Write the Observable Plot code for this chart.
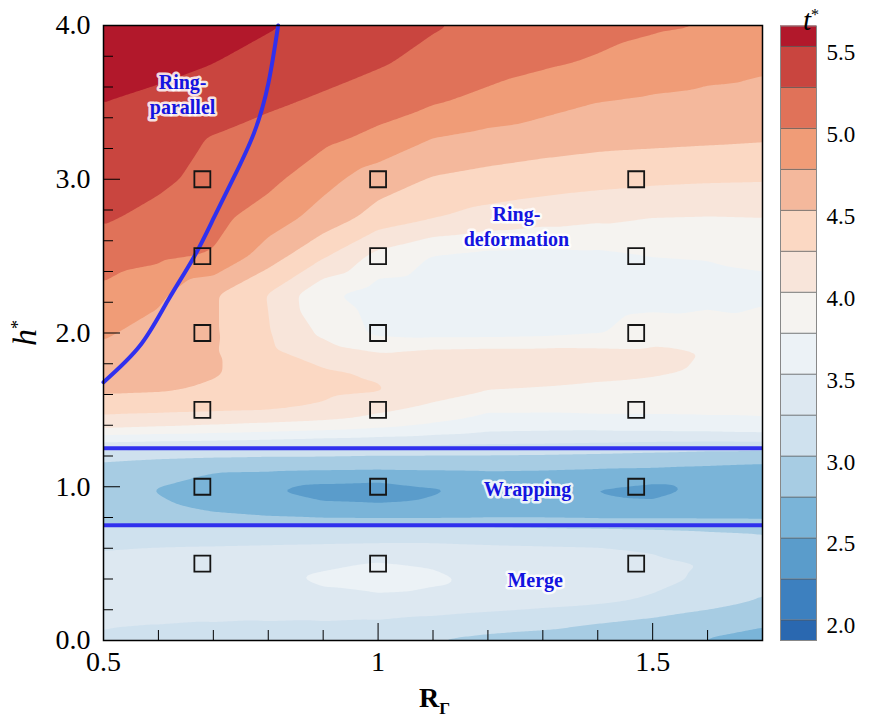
<!DOCTYPE html>
<html><head><meta charset="utf-8">
<script src="https://cdn.jsdelivr.net/npm/d3@7"></script>
<script src="https://cdn.jsdelivr.net/npm/@observablehq/plot@0.6"></script>
<style>
body{margin:0;background:#fff;}
#wrap{position:relative;width:869px;height:720px;overflow:hidden;font-family:"Liberation Serif","Times New Roman",serif;}
#wrap svg{position:absolute;top:0;}
.lbl{position:absolute;font-family:"Liberation Serif","Times New Roman",serif;color:#000;white-space:nowrap;line-height:1;}
</style></head><body><div id="wrap"></div>
<script>
// ---- data ----
const R = [0.5,0.6,0.7,0.8,0.9,1.0,1.1,1.2,1.3,1.4,1.5,1.6,1.7];
const H = [4.0,3.75,3.5,3.25,3.0,2.75,2.5,2.25,2.0,1.875,1.75,1.625,1.5,1.4,1.3,1.2,1.1,0.975,0.875,0.8,0.75,0.7,0.6,0.5,0.4,0.25,0.1,0.0];
const t_400  = [5.72,5.65,5.58,5.52,5.44,5.36,5.27,5.20,5.14,5.08,5.03,5.00,4.96];
const t_375  = [5.66,5.58,5.50,5.42,5.35,5.27,5.18,5.10,5.03,4.97,4.90,4.84,4.79];
const t_350  = [5.50,5.43,5.36,5.29,5.21,5.12,5.02,4.93,4.84,4.75,4.71,4.68,4.66];
const t_325  = [5.42,5.35,5.23,5.14,5.05,4.92,4.73,4.66,4.61,4.57,4.55,4.53,4.51];
const t_300  = [5.35,5.30,5.17,5.07,4.83,4.62,4.48,4.42,4.37,4.33,4.30,4.28,4.27];
const t_275  = [5.28,5.18,5.07,4.88,4.65,4.40,4.26,4.16,4.10,4.05,4.00,3.99,4.00];
const t_250  = [5.12,5.05,4.98,4.62,4.28,3.92,3.74,3.68,3.67,3.69,3.75,3.76,3.77];
const t_225  = [4.94,4.80,4.53,4.24,3.80,3.63,3.60,3.60,3.60,3.61,3.64,3.68,3.72];
const t_200  = [4.78,4.66,4.53,4.27,3.95,3.70,3.66,3.66,3.68,3.73,3.88,3.86,3.82];
const t_1875 = [4.70,4.62,4.52,4.30,4.12,4.00,4.06,4.08,4.08,4.07,4.05,3.99,3.90];
const t_175  = [4.62,4.58,4.52,4.40,4.28,4.22,4.12,4.10,4.08,4.06,4.04,3.97,3.90];
const t_1625 = [4.54,4.52,4.47,4.38,4.31,4.27,4.12,4.00,3.98,3.95,3.90,3.86,3.84];
const t_150  = [4.32,4.30,4.28,4.26,4.20,4.05,3.92,3.78,3.78,3.80,3.80,3.80,3.80];
const t_140  = [4.10,4.05,4.00,3.95,3.90,3.82,3.72,3.62,3.60,3.60,3.62,3.65,3.68];
const t_130  = [3.55,3.52,3.50,3.47,3.43,3.40,3.37,3.33,3.32,3.30,3.28,3.27,3.28];
const t_120  = [3.10,3.05,3.02,3.00,3.00,2.98,2.98,2.98,2.97,2.95,2.92,2.88,2.85];
const t_110  = [2.86,2.80,2.76,2.75,2.73,2.72,2.73,2.74,2.73,2.71,2.70,2.68,2.66];
const t_0975 = [2.82,2.74,2.64,2.52,2.38,2.34,2.46,2.60,2.60,2.48,2.40,2.58,2.60];
const t_0875 = [2.88,2.78,2.70,2.64,2.56,2.54,2.58,2.65,2.65,2.60,2.58,2.62,2.64];
const t_080  = [2.95,2.88,2.80,2.76,2.73,2.72,2.72,2.73,2.73,2.72,2.72,2.72,2.72];
const t_075  = [3.02,3.00,2.98,2.96,2.95,2.95,2.95,2.95,2.93,2.92,2.90,2.88,2.85];
const t_070  = [3.12,3.12,3.12,3.13,3.14,3.15,3.15,3.14,3.12,3.10,3.07,3.03,3.00];
const t_060  = [3.24,3.26,3.27,3.28,3.29,3.30,3.30,3.28,3.27,3.26,3.22,3.12,3.05];
const t_050  = [3.30,3.32,3.35,3.38,3.45,3.52,3.47,3.40,3.37,3.34,3.30,3.24,3.10];
const t_040  = [3.32,3.34,3.37,3.42,3.55,3.62,3.55,3.43,3.38,3.35,3.30,3.22,3.08];
const t_025  = [3.28,3.30,3.32,3.35,3.40,3.42,3.40,3.36,3.32,3.28,3.22,3.10,2.97];
const t_010  = [3.26,3.25,3.24,3.23,3.22,3.20,3.15,3.10,3.05,2.98,2.90,2.80,2.78];
const t_000  = [3.23,3.20,3.17,3.13,3.08,3.04,2.99,2.93,2.90,2.86,2.80,2.74,2.60];
const tRows = [t_400,t_375,t_350,t_325,t_300,t_275,t_250,t_225,t_200,t_1875,t_175,t_1625,t_150,t_140,t_130,t_120,t_110,t_0975,t_0875,t_080,t_075,t_070,t_060,t_050,t_040,t_025,t_010,t_000];

const levels = [2.0,2.25,2.5,2.75,3.0,3.25,3.5,3.75,4.0,4.25,4.5,4.75,5.0,5.25,5.5];
const bandColors = ["#2a68b0","#3d80bf","#5a9ccb","#7ab4d8","#a7cce3","#cfe1ee","#dde8f1","#ecf2f6",
                    "#f5f3f0","#f8e5da","#fbd8c3","#f4b89c","#f09c77","#e07259","#c9453f","#b2182b"];
const barLabels = [2.0,2.5,3.0,3.5,4.0,4.5,5.0,5.5];

const caseR = [0.68,1.0,1.47];
const caseH = [0.5,1.0,1.5,2.0,2.5,3.0];

const wrapBounds = [0.75,1.25];
const boundaryR = [0.5,0.567,0.617,0.664,0.701,0.737,0.774,0.800,0.818];
const boundaryH = [1.68,1.92,2.21,2.49,2.75,3.01,3.30,3.62,4.0];

const labelText = ["Ring-\nparallel","Ring-\ndeformation","Wrapping","Merge"];
const labelR = [0.644,1.252,1.272,1.286];
const labelH = [3.56,2.70,0.99,0.40];

const xMajor = [0.5,1,1.5];
const xMinor = [0.6,0.7,0.8,0.9,1.1,1.2,1.3,1.4,1.6];
const yMajor = [0,1,2,3,4];
const yMinor = [0.2,0.4,0.6,0.8,1.2,1.4,1.6,1.8,2.2,2.4,2.6,2.8,3.2,3.4,3.6,3.8];

// ---- tables ----
const grid = [];
H.forEach((h,i) => tRows[i].forEach((t,j) => grid.push({R: R[j], h, t})));
const cases = [];
caseR.forEach(r => caseH.forEach(h => cases.push({r, h})));
const curve = boundaryR.map((r,i) => ({r, h: boundaryH[i]}));
const labels = labelText.map((s,i) => ({s, r: labelR[i], h: labelH[i]}));

const serif = "Liberation Serif, Times New Roman, serif";
const blue = "#3030ee";

const main = Plot.plot({
  width: 869, height: 720,
  marginLeft: 103, marginRight: 107, marginTop: 25, marginBottom: 80,
  x: {domain: [0.5, 1.7]},
  y: {domain: [0, 4]},
  color: {type: "threshold", domain: levels, range: bandColors},
  style: {fontFamily: serif, background: "transparent", overflow: "visible"},
  marks: [
    Plot.contour(grid, {x: "R", y: "h", fill: "t", thresholds: levels, interpolate: "barycentric", blur: 1, pixelSize: 2}),
    Plot.ruleY(wrapBounds, {stroke: blue, strokeWidth: 4}),
    Plot.line(curve, {x: "r", y: "h", stroke: blue, strokeWidth: 4, curve: "natural"}),
    Plot.dot(cases, {x: "r", y: "h", symbol: "square", r: 9, stroke: "#151515", strokeWidth: 1.8, fill: "none"}),
    Plot.text(labels, {x: "r", y: "h", text: "s", fontSize: 20, fontWeight: "bold", fontFamily: serif, fill: "#1414e0",
      stroke: "white", strokeWidth: 5, strokeOpacity: 0.85, lineHeight: 1.25}),
    Plot.axisX(xMajor, {tickSize: -17, tickPadding: 28, fontSize: 28, fontFamily: serif, fill: "#000", label: null, tickFormat: d => String(d)}),
    Plot.axisX(xMinor, {tickSize: -10, tickFormat: () => "", label: null}),
    Plot.axisY(yMajor, {tickSize: -17, tickPadding: 30, fontSize: 28, fontFamily: serif, fill: "#000", label: null, tickFormat: d3.format(".1f")}),
    Plot.axisY(yMinor, {tickSize: -10, tickFormat: () => "", label: null}),
    Plot.frame({stroke: "#000", strokeWidth: 1.5})
  ]
});
main.style.left = "0px";

const bands = bandColors.map((c,i) => ({lo: i === 0 ? 1.875 : levels[i-1], hi: i === levels.length ? 5.625 : levels[i], c}));
const bar = Plot.plot({
  width: 96, height: 720, marginLeft: 7, marginRight: 53, marginTop: 25.5, marginBottom: 80,
  x: {domain: [0, 1], axis: null},
  y: {domain: [1.875, 5.625], axis: null},
  style: {fontFamily: serif, background: "transparent", overflow: "visible"},
  marks: [
    Plot.rect(bands, {x1: 0, x2: 1, y1: "lo", y2: "hi", fill: "c"}),
    Plot.ruleY(levels, {stroke: "#555", strokeWidth: 0.8}),
    Plot.frame({stroke: "#888"}),
    Plot.axisY(barLabels, {anchor: "right", tickSize: 0, tickPadding: 10, tickFormat: d3.format(".1f"), fontSize: 23, fontFamily: serif, fill: "#000", dy: 6, label: null})
  ]
});
bar.style.left = "773px";

const wrap = document.getElementById("wrap");
wrap.appendChild(main);
wrap.appendChild(bar);

function addLabel(html, css) {
  const d = document.createElement("div");
  d.className = "lbl";
  d.innerHTML = html;
  Object.assign(d.style, css);
  wrap.appendChild(d);
  return d;
}
addLabel('<i>h</i><sup style="font-size:18px;vertical-align:12px">*</sup>', {left: "12px", top: "316px", fontSize: "34px", transform: "rotate(-90deg)", transformOrigin: "center"});
addLabel('<b>R</b><sub style="font-size:17px;vertical-align:-7px"><b>Γ</b></sub>', {left: "419px", top: "684px", fontSize: "28px"});
addLabel('<i>t</i><sup style="font-size:16px;vertical-align:10px">*</sup>', {left: "803px", top: "5px", fontSize: "29px", lineHeight: "1.1"});
</script>
</body></html>
